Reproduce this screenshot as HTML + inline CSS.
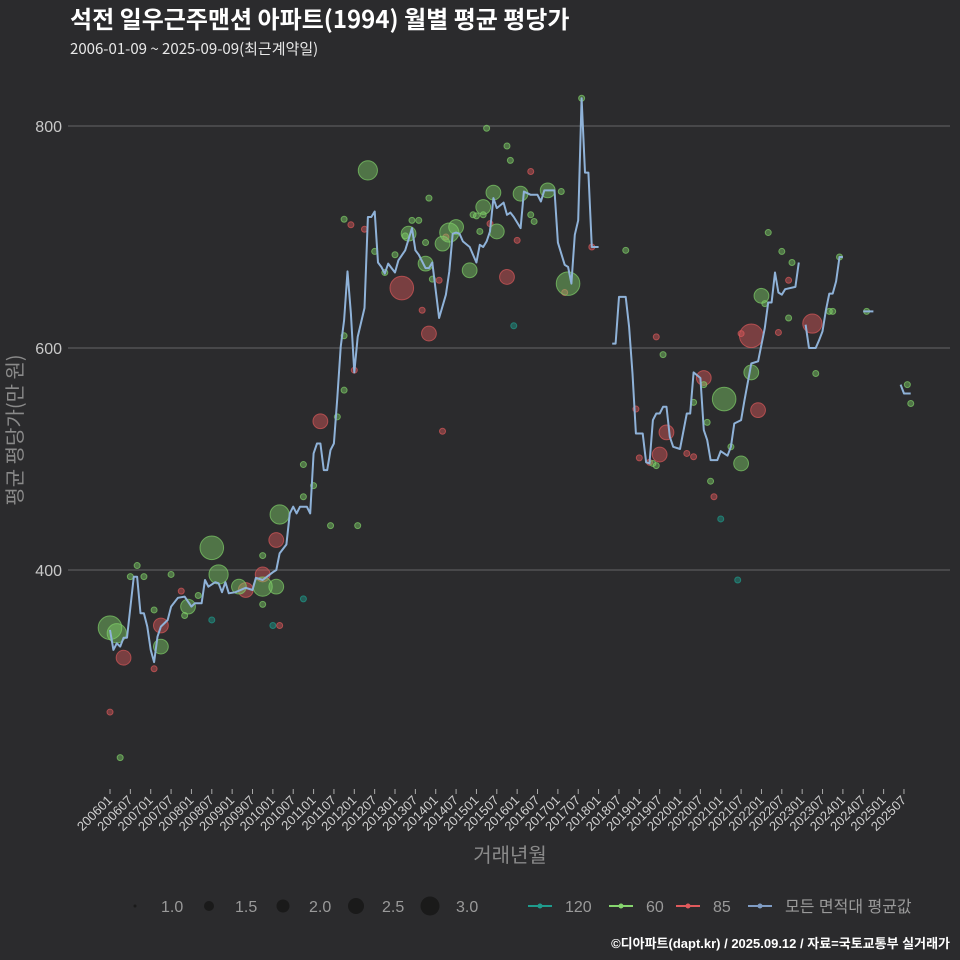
<!DOCTYPE html>
<html><head><meta charset="utf-8"><style>
html,body{margin:0;padding:0;background:#2b2b2d;}
svg{display:block;font-family:"Liberation Sans","Noto Sans CJK KR",sans-serif;}
</style></head><body>
<svg id="chart" width="960" height="960" viewBox="0 0 960 960" xmlns="http://www.w3.org/2000/svg">
<rect width="960" height="960" fill="#2b2b2d"/>
<text x="70" y="28" fill="#ffffff" font-size="24" font-weight="bold" font-family="'Noto Sans CJK KR',sans-serif">석전 일우근주맨션 아파트(1994) 월별 평균 평당가</text>
<text x="70" y="54" fill="#e8e8e8" font-size="15" font-family="'Noto Sans CJK KR',sans-serif">2006-01-09 ~ 2025-09-09(최근계약일)</text>
<g id="grid"></g>
<g id="yticks"></g>
<g id="xticks"></g>
<g id="bubbles"></g>
<g id="line"></g>
<text transform="translate(22,430) rotate(-90)" text-anchor="middle" fill="#8a8a8a" font-size="20" font-family="'Noto Sans CJK KR',sans-serif">평균 평당가(만 원)</text>
<text x="510" y="862" text-anchor="middle" fill="#8a8a8a" font-size="20" font-family="'Noto Sans CJK KR',sans-serif">거래년월</text>
<g id="legend"></g>
<text x="950" y="948" text-anchor="end" fill="#ffffff" font-size="13" font-weight="bold">©디아파트(dapt.kr) / 2025.09.12 / 자료=국토교통부 실거래가</text>
</svg>
<script>
// ---- data ----
const yTicks = [400, 600, 800];
const xTickLabels = [];
for (let yr = 2006; yr <= 2025; yr++) { xTickLabels.push(yr + "01"); xTickLabels.push(yr + "07"); }
// monthly average line: month index from 2006-01, value (null = gap)
const lineMonths = [0,1,2,3,4,5,7,8,9,10,11,12,13,14,15,17,18,20,22,24,25,27,28,29,31,32,33,34,35,37,40,42,43,45,48,49,50,52,53,54,55,56,58,59,60,61,62,63,64,65,66,67,68,69,70,71,72,73,75,76,77,78,79,80,81,82,83,84,85,87,89,90,91,93,94,95,97,99,100,101,102,103,104,106,108,109,110,111,112,113,114,116,117,118,119,121,122,124,126,127,128,131,132,134,135,136,137,138,139,140,141,142,144,145,148,149,150,152,153,154,155,157,158,159,160,161,162,163,164,165,166,168,170,171,172,174,175,176,177,179,180,182,183,184,186,187,189,191,193,194,195,196,197,198,199,202,203,204,205,206,208,209,210,211,212,213,214,215,216,217,222,225,226,233,234,236];
const lineValues = [346,328,334,331,339,339,394,394,361,361,349,328,317,340,349,355,367,375,376,367,370,370,391,385,389,388,380,389,379,380,384,382,393,391,398,400,415,423,451,457,451,457,457,451,505,514,514,490,490,508,514,555,601,625,669,631,578,610,636,718,718,723,677,673,667,676,672,668,679,688,708,688,684,672,672,677,627,648,669,703,704,703,696,691,677,693,691,696,705,735,726,731,720,722,718,708,741,738,738,732,742,742,695,675,673,658,702,715,825,758,758,691,691,null,604,604,646,646,619,577,523,523,497,496,535,541,541,547,547,520,511,509,541,541,578,573,526,517,499,499,507,503,511,532,535,553,586,588,618,641,641,668,650,648,653,655,677,null,621,600,600,607,615,634,649,649,660,682,682,null,633,633,null,567,559,559];
// bubbles per area type: month index, value, count
const b60Months = [0,2,15,30,32,23,38,49,45,50,76,88,93,98,100,102,106,110,113,114,121,129,135,181,192,189,186,3,8,6,10,18,13,26,22,45,45,57,57,60,65,67,69,69,73,69,78,81,84,87,89,91,93,94,95,108,109,110,111,117,118,124,125,107,133,139,152,163,160,172,161,177,183,176,175,194,198,201,200,193,208,212,213,215,223,235,236];
const b60Values = [348,343,331,420,396,367,385,385,385,450,760,703,676,694,704,709,670,727,740,705,739,742,658,554,647,578,496,231,404,394,394,396,364,377,359,413,369,466,495,476,440,538,562,611,440,716,687,668,684,701,715,715,695,735,662,719,705,720,798,782,769,720,714,720,741,825,688,594,496,551,494,480,511,533,567,704,687,677,627,640,577,633,633,682,633,567,550];
const b60Counts = [3,2.5,2,3,2.5,2,2,2,2.5,2.5,2.5,2,2,2,2.5,2,2,2,2,2,2,2,3,3,2,2,2,1,1,1,1,1,1,1,1,1,1,1,1,1,1,1,1,1,1,1,1,1,1,1,1,1,1,1,1,1,1,1,1,1,1,1,1,1,1,1,1,1,1,1,1,1,1,1,1,1,1,1,1,1,1,1,1,1,1,1,1];
const b85Months = [4,15,49,45,40,62,86,94,117,175,162,164,189,191,207,0,13,21,50,71,72,75,92,97,98,99,112,120,124,134,142,161,155,156,159,170,172,178,197,186,200];
const b85Values = [321,350,427,396,382,534,654,613,664,573,504,524,611,544,622,272,311,381,350,711,580,707,634,661,525,700,712,697,759,650,691,610,545,501,497,505,502,466,614,613,661];
const b85Counts = [2,2,2,2,2,2,3,2,2,2,2,2,3,2,2.5,1,1,1,1,1,1,1,1,1,1,1,1,1,1,1,1,1,1,1,1,1,1,1,1,1,1];
const b120Months = [30,48,57,119,180,185];
const b120Values = [355,350,374,620,446,391];
const b120Counts = [1,1,1,1,1,1];
// ---- scales ----
const NS = "http://www.w3.org/2000/svg";
const xS = m => 110 + m * 3.393;
const yS = v => 348 - (v - 600) * 1.11;
const rS = n => 3 + (n - 1) * 4.4;
function mk(tag, attrs, parent) { const e = document.createElementNS(NS, tag); for (const k in attrs) e.setAttribute(k, attrs[k]); parent.appendChild(e); return e; }
const grid = document.getElementById('grid'), yt = document.getElementById('yticks'), xt = document.getElementById('xticks');
yTicks.forEach(v => {
  const l = mk('line', {x1: 68, x2: 950, y1: yS(v), y2: yS(v), stroke: '#666', 'stroke-width': 1}, grid);
  
  
  const t = mk('text', {x: 62, y: yS(v) + 6, 'text-anchor': 'end', fill: '#c8c8c8', 'font-size': 16}, yt);
  t.textContent = v;
  
  
});
xTickLabels.forEach((lab, i) => {
  const x = xS(i * 6);
  const tk = mk('line', {x1: x, x2: x, y1: 789, y2: 794, stroke: '#aaa', 'stroke-width': 1}, xt);
  
  
  const t = mk('text', {x: x + 3, y: 801, 'text-anchor': 'end', fill: '#d0d0d0', 'font-size': 13, transform: 'rotate(-45 ' + (x + 3) + ' 801)'}, xt);
  t.textContent = lab;
  
  
});
const bg = document.getElementById('bubbles');
function drawB(ms, vs, cs, fill, nm) {
  ms.forEach((m, i) => {
    const c = mk('circle', {cx: xS(m), cy: yS(vs[i]), r: rS(cs[i]), fill: fill, 'fill-opacity': 0.45, stroke: fill, 'stroke-opacity': 0.7, 'stroke-width': 1}, bg);
    
    
  });
}
drawB(b120Months, b120Values, b120Counts, '#1f9b8c', 'bubble-120');
drawB(b85Months, b85Values, b85Counts, '#d9585a', 'bubble-85');
drawB(b60Months, b60Values, b60Counts, '#7fcf68', 'bubble-60');
const lg = document.getElementById('line');
let seg = [];
function flush() {
  if (seg.length > 1) {
    const p = mk('polyline', {points: seg.join(' '), fill: 'none', stroke: '#8fb2d8', 'stroke-width': 2, 'stroke-linejoin': 'round'}, lg);
    
    
  }
  seg = [];
}
lineMonths.forEach((m, i) => { const v = lineValues[i]; if (v === null) flush(); else seg.push(xS(m).toFixed(1) + ',' + yS(v).toFixed(1)); });
flush();
// legend
const leg = document.getElementById('legend');
const sizeLab = ['1.0','1.5','2.0','2.5','3.0'], sizeR = [1.5,5,6.5,8,9.5], sizeX = [135,209,283,356,430];
sizeLab.forEach((s, i) => {
  const c = mk('circle', {cx: sizeX[i], cy: 906, r: sizeR[i], fill: '#1a1a1a'}, leg);
  
  
  const t = mk('text', {x: sizeX[i] + 26, y: 912, fill: '#9a9a9a', 'font-size': 16}, leg);
  t.textContent = s;
  
  
});
const colLab = ['120','60','85','모든 면적대 평균값'], colC = ['#1f9b8c','#86d56e','#e05a5c','#7f9cc4'], colX = [540,621,688,760];
colLab.forEach((s, i) => {
  const l = mk('line', {x1: colX[i] - 12, x2: colX[i] + 12, y1: 906, y2: 906, stroke: colC[i], 'stroke-width': 2}, leg);
  
  
  const c = mk('circle', {cx: colX[i], cy: 906, r: 2.5, fill: colC[i]}, leg);
  
  
  const t = mk('text', {x: colX[i] + 25, y: 912, fill: '#9a9a9a', 'font-size': 16}, leg);
  t.textContent = s;
  
  
});
</script>
</body></html>
